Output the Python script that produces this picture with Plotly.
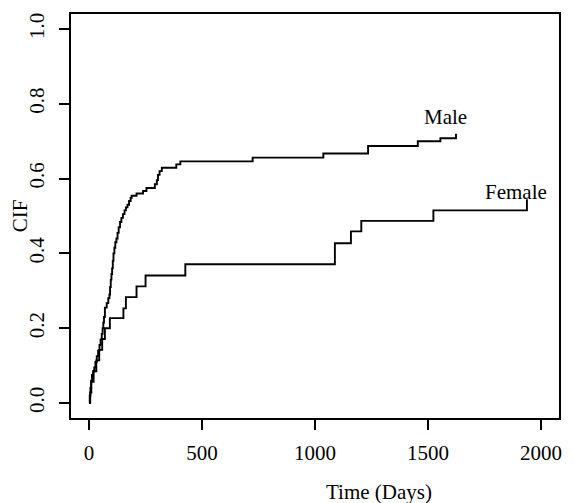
import plotly.graph_objects as go

# Male CIF step data (time in days, cumulative incidence)
male_t = [0, 3, 6, 9, 13, 18, 23, 28, 34, 40, 46, 51, 56, 60, 63, 66, 70, 78, 85, 90,
          93, 96, 99, 102, 105, 108, 112, 116, 121, 126, 131, 137, 143, 150, 157, 163,
          170, 177, 184, 188, 210, 239, 254, 291, 300, 305, 312, 322, 386, 404, 724,
          1037, 1235, 1455, 1555, 1624]
male_cif = [0.0, 0.02, 0.04, 0.06, 0.075, 0.085, 0.095, 0.11, 0.125, 0.14, 0.155, 0.17,
            0.185, 0.2, 0.215, 0.23, 0.255, 0.267, 0.28, 0.29, 0.31, 0.33, 0.345, 0.36,
            0.38, 0.40, 0.415, 0.43, 0.44, 0.455, 0.47, 0.484, 0.495, 0.505, 0.515, 0.523,
            0.53, 0.54, 0.548, 0.554, 0.56, 0.567, 0.575, 0.585, 0.596, 0.61, 0.62, 0.629,
            0.638, 0.646, 0.656, 0.667, 0.687, 0.700, 0.708, 0.720]

# Female CIF step data
female_t = [0, 5, 10, 20, 32, 45, 58, 70, 92, 152, 163, 210, 250, 426, 1088, 1159,
            1205, 1524, 1938]
female_cif = [0.0, 0.028, 0.057, 0.085, 0.114, 0.142, 0.171, 0.2, 0.227, 0.253, 0.283,
              0.312, 0.341, 0.371, 0.427, 0.459, 0.487, 0.515, 0.545]

x_ticks = [0, 500, 1000, 1500, 2000]
y_ticks = [0.0, 0.2, 0.4, 0.6, 0.8, 1.0]
y_tick_text = ["0.0", "0.2", "0.4", "0.6", "0.8", "1.0"]

FONT = "Liberation Serif"
FS = 21
LW = 1.9

fig = go.Figure()
fig.add_trace(go.Scatter(x=male_t, y=male_cif, mode="lines", line_shape="hv",
                         line=dict(color="black", width=LW), showlegend=False,
                         hoverinfo="skip"))
fig.add_trace(go.Scatter(x=female_t, y=female_cif, mode="lines", line_shape="hv",
                         line=dict(color="black", width=LW), showlegend=False,
                         hoverinfo="skip"))

fig.add_annotation(x=1577, y=0.766, xref="x", yref="y", text="Male", showarrow=False,
                   font=dict(family=FONT, size=FS, color="black"))
fig.add_annotation(x=1889, y=0.565, xref="x", yref="y", text="Female", showarrow=False,
                   font=dict(family=FONT, size=FS, color="black"))

# axis titles
fig.add_annotation(x=(380 - 71) / 490, y=(418 - 492) / 405, xref="paper", yref="paper",
                   text="Time (Days)", showarrow=False, xanchor="center", yanchor="middle",
                   font=dict(family=FONT, size=FS, color="black"))
fig.add_annotation(x=(20 - 71) / 490, y=0.5, xref="paper", yref="paper",
                   text="CIF", showarrow=False, textangle=-90, xanchor="center",
                   yanchor="middle", font=dict(family=FONT, size=FS, color="black"))

fig.update_xaxes(range=[-80, 2080], tickvals=x_ticks, ticks="outside", ticklen=10,
                 tickwidth=LW, tickcolor="black", showgrid=False, zeroline=False,
                 showline=True, linecolor="black", linewidth=LW, mirror=True,
                 ticklabelstandoff=5,
                 tickfont=dict(family=FONT, size=FS, color="black"))
fig.update_yaxes(range=[-0.04, 1.04], tickvals=y_ticks, ticktext=y_tick_text,
                 ticks="outside", ticklen=10, tickwidth=LW, tickcolor="black",
                 showgrid=False, zeroline=False, showline=True, linecolor="black",
                 linewidth=LW, mirror=True, tickangle=-90, ticklabelstandoff=7,
                 tickfont=dict(family=FONT, size=FS, color="black"))

fig.update_layout(width=574, height=503, margin=dict(l=71, r=13, t=13, b=85),
                  plot_bgcolor="white", paper_bgcolor="white", hovermode=False)

fig.write_html("out.html", config={"displayModeBar": False, "staticPlot": True},
               post_script="document.body.style.margin='0';document.body.style.overflow='hidden';")
